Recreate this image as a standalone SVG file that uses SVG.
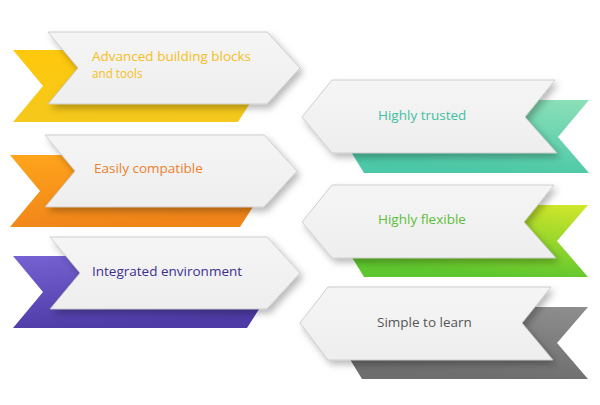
<svg xmlns="http://www.w3.org/2000/svg" width="600" height="405" viewBox="0 0 600 405">
<defs>
<filter id="sh" x="-10%" y="-20%" width="125%" height="160%">
<feDropShadow dx="3" dy="4" stdDeviation="3.5" flood-color="#000" flood-opacity="0.28"/>
</filter>
<linearGradient id="gw" x1="0" y1="0" x2="0" y2="1">
<stop offset="0" stop-color="#F5F5F5"/><stop offset="1" stop-color="#EEEEEE"/>
</linearGradient>
<linearGradient id="gy" x1="0" y1="0" x2="0.3" y2="1">
<stop offset="0" stop-color="#FFC80C"/><stop offset="1" stop-color="#F4C81C"/>
</linearGradient>
<linearGradient id="go" x1="0" y1="0" x2="0.3" y2="1">
<stop offset="0" stop-color="#FFA51C"/><stop offset="1" stop-color="#F08419"/>
</linearGradient>
<linearGradient id="gp" x1="0" y1="0" x2="0.3" y2="1">
<stop offset="0" stop-color="#7662D2"/><stop offset="1" stop-color="#4E3BA6"/>
</linearGradient>
<linearGradient id="gt" x1="1" y1="0" x2="0.7" y2="1">
<stop offset="0" stop-color="#8CE0B8"/><stop offset="1" stop-color="#4CC8A6"/>
</linearGradient>
<linearGradient id="gg" x1="1" y1="0" x2="0.7" y2="1">
<stop offset="0" stop-color="#D2E72A"/><stop offset="1" stop-color="#5EC62E"/>
</linearGradient>
<linearGradient id="gk" x1="1" y1="0" x2="0.7" y2="1">
<stop offset="0" stop-color="#8E8E8E"/><stop offset="1" stop-color="#6E6E6E"/>
</linearGradient>
</defs>
<style>
.w{fill:url(#gw);stroke:#C4C4C4;stroke-width:0.8;filter:url(#sh)}
text{font-family:"Open Sans","Noto Sans","Liberation Sans",sans-serif;font-size:13.5px}
.s{font-size:11.7px}
</style>
<g id="item-advanced">
<polygon points="13,50 238,50 261,86 238,122 13,122 43,86" fill="url(#gy)"/>
<polygon class="w" points="48,32 267,32 300,68 267,104 48,104 78,68"/>
<text x="92" y="61" fill="#F4C020">Advanced building blocks</text>
<text class="s" x="92" y="78" fill="#F4C020">and tools</text>
</g>
<g id="item-compatible">
<polygon points="10,155 240,155 263,191 240,227 10,227 40,191" fill="url(#go)"/>
<polygon class="w" points="45,135 264,135 297,171 264,207 45,207 75,171"/>
<text x="94" y="173" fill="#EE7F2D">Easily compatible</text>
</g>
<g id="item-integrated">
<polygon points="13,256 247,256 270,292 247,328 13,328 43,292" fill="url(#gp)"/>
<polygon class="w" points="50,237 267,237 300,273 267,309 50,309 80,273"/>
<text x="92" y="276" fill="#3E2F8F">Integrated environment</text>
</g>
<g id="item-trusted">
<polygon points="364,100 589,100 558,137 589,173 364,173 342,137" fill="url(#gt)"/>
<polygon class="w" points="332,80 555,80 525,117 557,153 332,153 302,117"/>
<text x="378" y="120" fill="#3FC0A0">Highly trusted</text>
</g>
<g id="item-flexible">
<polygon points="364,205 588,205 557,241 588,277 364,277 342,241" fill="url(#gg)"/>
<polygon class="w" points="332,185 554,185 524,222 556,258 332,258 302,222"/>
<text x="378" y="224" fill="#5DBE3A">Highly flexible</text>
</g>
<g id="item-simple">
<polygon points="362,307 588,307 557,343 588,379 362,379 340,343" fill="url(#gk)"/>
<polygon class="w" points="328,287 551,287 522,323 553,360 328,360 300,323"/>
<text x="377" y="327" fill="#555555">Simple to learn</text>
</g>
<g id="connectors"/>
</svg>
